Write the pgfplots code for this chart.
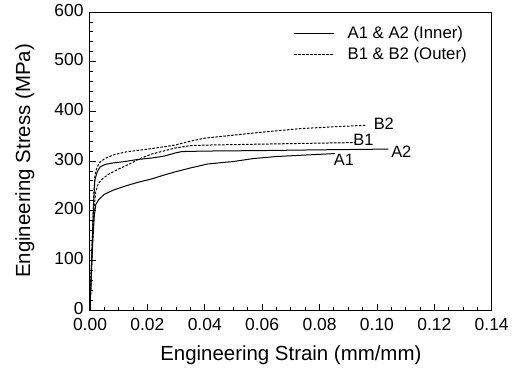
\documentclass[border=0pt]{standalone}
\usepackage{pgfplots}
\pgfplotsset{compat=1.18}
\usepackage{fontspec}
\setmainfont{Liberation Sans}
\begin{document}
\begin{tikzpicture}
\useasboundingbox (-90bp,-58bp) rectangle (427bp,310bp);
\begin{axis}[
  at={(0,0)}, anchor=south west,
  width=401.7bp, height=298bp, scale only axis,
  xmin=0, xmax=0.14, ymin=0, ymax=600,
  xtick={0,0.02,...,0.14}, ytick={0,100,...,600},
  minor x tick num=3, minor y tick num=4,
  tick pos=left,
  major tick length=6bp, minor tick length=3bp,
  axis line style={line width=1bp},
  every tick/.style={line width=0.8bp, black},
  xticklabel style={yshift=-4.5bp, /pgf/number format/fixed, /pgf/number format/fixed zerofill, /pgf/number format/precision=2},
  yticklabel style={xshift=-3bp, yshift=2bp},
  /pgf/number format/assume math mode=true,
  scaled x ticks=false,
  tick label style={font=\fontsize{17.5}{20}\selectfont},
  xlabel={Engineering Strain (mm/mm)},
  ylabel={Engineering Stress (MPa)},
  every axis x label/.style={at={(axis description cs:0.5,-0.151)}, anchor=center, font=\fontsize{20.5}{24}\selectfont},
  every axis y label/.style={at={(axis description cs:-0.162,0.5)}, rotate=90, anchor=center, font=\fontsize{20.5}{24}\selectfont},
  legend style={draw=none, fill=none, at={(0.499,0.965)}, anchor=north west,
    font=\fontsize{16.8}{19}\selectfont, row sep=3bp},
  legend cell align=left,
  legend image code/.code={\draw[#1] (0bp,0bp) -- (40bp,0bp);},
]
\addplot[black, line width=1bp] coordinates {(0,0) (0.0008,120) (0.0015,190) (0.002,212) (0.003,222) (0.005,233) (0.008,241) (0.012,249) (0.016,256) (0.0215,264) (0.026,272) (0.0296,278) (0.035,286) (0.041,294) (0.05,299) (0.057,305) (0.065,309) (0.075,312) (0.0854,315)};
\addlegendentry{\hspace*{11bp}A1 \& A2 (Inner)}
\addplot[black, line width=1bp, dash pattern=on 2.5bp off 1.5bp] coordinates {(0,0) (0.0008,130) (0.0015,210) (0.002,238) (0.0029,255) (0.0045,265) (0.0064,273) (0.01,284) (0.0134,293) (0.0175,305) (0.0215,314) (0.0296,326) (0.035,331) (0.04,332) (0.06,334) (0.08,336) (0.0923,337)};
\addlegendentry{\hspace*{11bp}B1 \& B2 (Outer)}
\addplot[black, line width=1bp, forget plot] coordinates {(0,0) (0.0008,140) (0.0013,220) (0.0017,262) (0.0025,278) (0.0035,288) (0.0052,293) (0.008,296) (0.0122,299) (0.0165,303) (0.0215,306) (0.026,310) (0.0296,316) (0.032,319) (0.04,320) (0.06,321) (0.08,322.5) (0.104,324)};
\addplot[black, line width=1bp, dash pattern=on 2.5bp off 1.5bp, forget plot] coordinates {(0,0) (0.0008,140) (0.0013,230) (0.0017,272) (0.0025,288) (0.0035,298) (0.0052,305) (0.008,312) (0.0122,318) (0.0215,325) (0.0296,332) (0.035,340) (0.04,346) (0.05,352) (0.0616,359) (0.073,365) (0.085,369) (0.0964,372)};
\node[font=\fontsize{16.5}{20}\selectfont] at (axis cs:0.0885,303) {A1};
\node[font=\fontsize{16.5}{20}\selectfont] at (axis cs:0.1085,318.5) {A2};
\node[font=\fontsize{16.5}{20}\selectfont] at (axis cs:0.0953,342) {B1};
\node[font=\fontsize{16.5}{20}\selectfont] at (axis cs:0.1024,374) {B2};
\end{axis}
\end{tikzpicture}
\end{document}
